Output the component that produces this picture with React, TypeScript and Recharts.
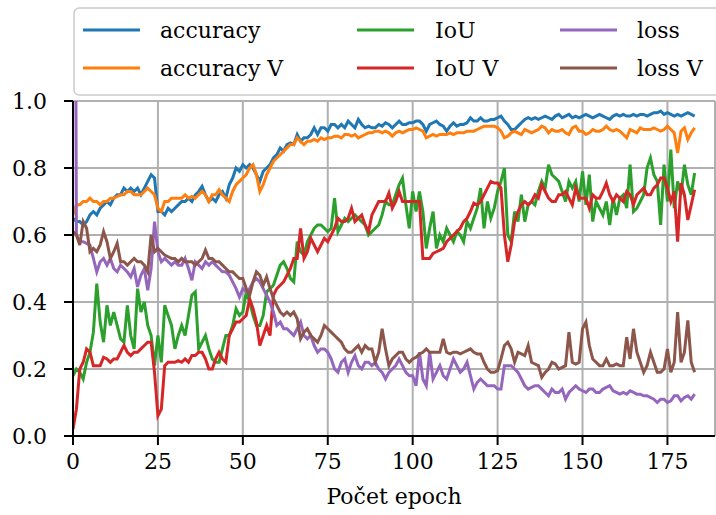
import React from 'react';
import { LineChart, Line, XAxis, YAxis, CartesianGrid } from 'recharts';

const FONT = 'DejaVu Serif';
const FS = 22;

const epochs = Array.from({ length: 184 }, (_, i) => i);

const accuracy = [
  0.65, 0.64, 0.64, 0.63, 0.64, 0.66, 0.67, 0.66, 0.68, 0.69,
  0.70, 0.69, 0.71, 0.72, 0.72, 0.74, 0.73, 0.74, 0.73, 0.74,
  0.72, 0.74, 0.76, 0.78, 0.77, 0.67, 0.67, 0.66, 0.68, 0.67,
  0.68, 0.69, 0.70, 0.70, 0.71, 0.70, 0.72, 0.73, 0.745, 0.72,
  0.70, 0.71, 0.70, 0.72, 0.73, 0.71, 0.75, 0.77, 0.80, 0.79,
  0.81, 0.80, 0.81, 0.80, 0.78, 0.76, 0.79, 0.80, 0.81, 0.83,
  0.84, 0.86, 0.85, 0.87, 0.875, 0.87, 0.90, 0.88, 0.89, 0.89,
  0.90, 0.92, 0.90, 0.92, 0.92, 0.91, 0.93, 0.93, 0.92, 0.93,
  0.92, 0.94, 0.93, 0.92, 0.945, 0.93, 0.92, 0.925, 0.92, 0.92,
  0.93, 0.925, 0.935, 0.93, 0.92, 0.93, 0.94, 0.93, 0.93, 0.935,
  0.935, 0.94, 0.94, 0.93, 0.91, 0.93, 0.935, 0.94, 0.93, 0.925,
  0.91, 0.925, 0.935, 0.925, 0.93, 0.93, 0.935, 0.95, 0.94, 0.94,
  0.95, 0.94, 0.94, 0.945, 0.945, 0.95, 0.955, 0.94, 0.93, 0.915,
  0.915, 0.925, 0.935, 0.945, 0.95, 0.945, 0.95, 0.945, 0.95, 0.955,
  0.95, 0.945, 0.955, 0.96, 0.95, 0.955, 0.96, 0.95, 0.955, 0.95,
  0.955, 0.96, 0.955, 0.95, 0.955, 0.96, 0.955, 0.95, 0.945, 0.955,
  0.96, 0.955, 0.96, 0.955, 0.955, 0.96, 0.955, 0.96, 0.96, 0.955,
  0.96, 0.965, 0.965, 0.97, 0.96, 0.965, 0.96, 0.955, 0.96, 0.955,
  0.96, 0.965, 0.96, 0.955,
];

const accuracyV = [
  0.66, 0.69, 0.69, 0.70, 0.70, 0.71, 0.70, 0.70, 0.69, 0.70,
  0.70, 0.71, 0.71, 0.715, 0.72, 0.72, 0.73, 0.73, 0.72, 0.72,
  0.72, 0.73, 0.74, 0.73, 0.72, 0.68, 0.67, 0.70, 0.70, 0.71,
  0.71, 0.71, 0.71, 0.72, 0.71, 0.715, 0.71, 0.72, 0.73, 0.72,
  0.70, 0.72, 0.72, 0.735, 0.72, 0.71, 0.70, 0.73, 0.75, 0.76,
  0.77, 0.78, 0.80, 0.81, 0.78, 0.73, 0.75, 0.78, 0.80, 0.82,
  0.83, 0.84, 0.85, 0.86, 0.87, 0.87, 0.89, 0.88, 0.87, 0.88,
  0.88, 0.885, 0.88, 0.89, 0.885, 0.89, 0.89, 0.895, 0.895, 0.89,
  0.90, 0.90, 0.895, 0.90, 0.89, 0.895, 0.90, 0.905, 0.905, 0.91,
  0.91, 0.905, 0.91, 0.905, 0.895, 0.905, 0.91, 0.905, 0.91, 0.915,
  0.915, 0.92, 0.915, 0.91, 0.89, 0.895, 0.90, 0.895, 0.90, 0.90,
  0.90, 0.905, 0.90, 0.905, 0.905, 0.905, 0.91, 0.91, 0.91, 0.915,
  0.92, 0.925, 0.925, 0.925, 0.925, 0.92, 0.91, 0.89, 0.895, 0.905,
  0.91, 0.905, 0.90, 0.915, 0.91, 0.905, 0.91, 0.915, 0.925, 0.92,
  0.905, 0.915, 0.91, 0.91, 0.915, 0.905, 0.90, 0.92, 0.925, 0.91,
  0.91, 0.90, 0.905, 0.915, 0.91, 0.91, 0.915, 0.925, 0.915, 0.91,
  0.915, 0.91, 0.90, 0.89, 0.915, 0.91, 0.905, 0.92, 0.915, 0.915,
  0.915, 0.92, 0.915, 0.91, 0.915, 0.925, 0.915, 0.905, 0.845, 0.91,
  0.92, 0.885, 0.905, 0.92,
];

const iou = [
  0.18, 0.20, 0.19, 0.17, 0.22, 0.25, 0.31, 0.455, 0.34, 0.28,
  0.39, 0.33, 0.37, 0.33, 0.29, 0.28, 0.39, 0.30, 0.26, 0.44,
  0.37, 0.40, 0.33, 0.30, 0.21, 0.30, 0.22, 0.39, 0.36, 0.33,
  0.26, 0.30, 0.33, 0.30, 0.36, 0.42, 0.43, 0.26, 0.28, 0.30,
  0.26, 0.23, 0.22, 0.22, 0.26, 0.30, 0.30, 0.33, 0.38, 0.36,
  0.37, 0.43, 0.40, 0.36, 0.33, 0.33, 0.36, 0.43, 0.44, 0.45,
  0.48, 0.51, 0.52, 0.50, 0.47, 0.46, 0.58, 0.55, 0.54, 0.58,
  0.60, 0.62, 0.63, 0.63, 0.62, 0.61, 0.62, 0.71, 0.61, 0.63,
  0.65, 0.64, 0.65, 0.66, 0.65, 0.64, 0.63, 0.60, 0.61, 0.62,
  0.63, 0.66, 0.70, 0.69, 0.69, 0.72, 0.75, 0.77, 0.69, 0.62,
  0.73, 0.67, 0.73, 0.67, 0.56, 0.62, 0.67, 0.56, 0.60, 0.58,
  0.62, 0.60, 0.58, 0.61, 0.60, 0.58, 0.64, 0.62, 0.65, 0.68,
  0.74, 0.62, 0.70, 0.65, 0.68, 0.73, 0.76, 0.80, 0.60, 0.58,
  0.67, 0.64, 0.72, 0.64, 0.69, 0.70, 0.69, 0.73, 0.76, 0.74,
  0.81, 0.78, 0.77, 0.76, 0.73, 0.70, 0.76, 0.74, 0.76, 0.70,
  0.79, 0.69, 0.78, 0.64, 0.70, 0.68, 0.66, 0.70, 0.63, 0.71,
  0.66, 0.71, 0.72, 0.68, 0.81, 0.67, 0.68, 0.70, 0.72, 0.80,
  0.83, 0.78, 0.76, 0.63, 0.81, 0.70, 0.855, 0.68, 0.76, 0.72,
  0.81, 0.75, 0.72, 0.785,
];

const iouV = [
  0.02, 0.08, 0.20, 0.22, 0.26, 0.25, 0.21, 0.21, 0.21, 0.235,
  0.23, 0.22, 0.23, 0.23, 0.25, 0.27, 0.25, 0.24, 0.25, 0.25,
  0.26, 0.27, 0.28, 0.28, 0.19, 0.06, 0.08, 0.21, 0.22, 0.22,
  0.22, 0.225, 0.22, 0.23, 0.22, 0.24, 0.24, 0.25, 0.25, 0.23,
  0.20, 0.20, 0.23, 0.25, 0.23, 0.22, 0.30, 0.32, 0.34, 0.34,
  0.35, 0.36, 0.41, 0.38, 0.34, 0.27, 0.30, 0.33, 0.30, 0.42,
  0.44, 0.45, 0.46, 0.48, 0.50, 0.53, 0.53, 0.62, 0.53, 0.55,
  0.59, 0.57, 0.55, 0.57, 0.59, 0.58, 0.60, 0.62, 0.65, 0.64,
  0.64, 0.65, 0.68, 0.64, 0.65, 0.66, 0.63, 0.61, 0.66, 0.68,
  0.70, 0.70, 0.70, 0.725, 0.68, 0.70, 0.73, 0.70, 0.70, 0.70,
  0.70, 0.70, 0.70, 0.53, 0.53, 0.53, 0.545, 0.55, 0.555, 0.56,
  0.58, 0.59, 0.60, 0.61, 0.62, 0.64, 0.65, 0.67, 0.695, 0.69,
  0.70, 0.72, 0.74, 0.76, 0.755, 0.755, 0.74, 0.60, 0.52, 0.57,
  0.64, 0.67, 0.69, 0.70, 0.69, 0.70, 0.72, 0.71, 0.75, 0.73,
  0.71, 0.70, 0.70, 0.72, 0.72, 0.73, 0.71, 0.69, 0.74, 0.71,
  0.71, 0.71, 0.68, 0.72, 0.71, 0.71, 0.73, 0.755, 0.72, 0.70,
  0.72, 0.71, 0.70, 0.73, 0.72, 0.69, 0.72, 0.73, 0.74, 0.72,
  0.72, 0.74, 0.75, 0.77, 0.77, 0.74, 0.70, 0.73, 0.58, 0.755,
  0.72, 0.645, 0.69, 0.735,
];

const loss = [
  3.5, 0.60, 0.58, 0.58, 0.575, 0.57, 0.53, 0.49, 0.52, 0.53,
  0.51, 0.53, 0.50, 0.49, 0.51, 0.50, 0.49, 0.475, 0.50, 0.445,
  0.48, 0.50, 0.435, 0.50, 0.64, 0.55, 0.52, 0.53, 0.52, 0.51,
  0.52, 0.51, 0.51, 0.53, 0.50, 0.465, 0.52, 0.51, 0.50, 0.52,
  0.51, 0.52, 0.51, 0.50, 0.49, 0.49, 0.48, 0.46, 0.44, 0.415,
  0.44, 0.43, 0.44, 0.46, 0.47, 0.46, 0.44, 0.42, 0.40, 0.37,
  0.33, 0.34, 0.32, 0.32, 0.31, 0.30, 0.32, 0.34, 0.30, 0.29,
  0.30, 0.27, 0.25, 0.26, 0.26, 0.25, 0.23, 0.20, 0.19, 0.22,
  0.23, 0.19, 0.22, 0.24, 0.21, 0.20, 0.22, 0.22, 0.21, 0.22,
  0.20, 0.19, 0.17, 0.19, 0.20, 0.21, 0.23, 0.21, 0.19, 0.18,
  0.18, 0.15, 0.25, 0.17, 0.15, 0.25, 0.17, 0.19, 0.21, 0.18,
  0.17, 0.20, 0.23, 0.21, 0.19, 0.20, 0.22, 0.18, 0.14, 0.16,
  0.17, 0.16, 0.15, 0.15, 0.15, 0.14, 0.14, 0.21, 0.21, 0.21,
  0.20, 0.19, 0.17, 0.15, 0.14, 0.145, 0.15, 0.15, 0.14, 0.13,
  0.12, 0.14, 0.13, 0.13, 0.14, 0.11, 0.13, 0.14, 0.15, 0.14,
  0.135, 0.13, 0.14, 0.14, 0.13, 0.13, 0.14, 0.145, 0.15, 0.135,
  0.13, 0.125, 0.13, 0.125, 0.135, 0.13, 0.125, 0.125, 0.12, 0.12,
  0.115, 0.11, 0.10, 0.11, 0.11, 0.10, 0.105, 0.12, 0.12, 0.105,
  0.115, 0.12, 0.11, 0.125,
];

const lossV = [
  0.61, 0.60, 0.57, 0.64, 0.62, 0.55, 0.56, 0.55, 0.57, 0.61,
  0.58, 0.53, 0.55, 0.575, 0.52, 0.52, 0.51, 0.52, 0.53, 0.52,
  0.52, 0.51, 0.49, 0.60, 0.55, 0.56, 0.55, 0.54, 0.535, 0.53,
  0.53, 0.52, 0.53, 0.52, 0.52, 0.52, 0.51, 0.52, 0.53, 0.555,
  0.53, 0.53, 0.52, 0.52, 0.51, 0.50, 0.49, 0.49, 0.48, 0.47,
  0.47, 0.44, 0.42, 0.46, 0.49, 0.48, 0.45, 0.475, 0.44, 0.41,
  0.39, 0.37, 0.36, 0.37, 0.36, 0.37, 0.35, 0.29, 0.31, 0.32,
  0.30, 0.29, 0.28, 0.30, 0.33, 0.32, 0.31, 0.30, 0.29, 0.28,
  0.26, 0.25, 0.25, 0.26, 0.27, 0.25, 0.27, 0.26, 0.26, 0.22,
  0.25, 0.32, 0.26, 0.21, 0.23, 0.24, 0.25, 0.25, 0.23, 0.22,
  0.23, 0.235, 0.245, 0.25, 0.26, 0.25, 0.25, 0.25, 0.25, 0.29,
  0.25, 0.245, 0.25, 0.25, 0.245, 0.25, 0.255, 0.26, 0.25, 0.245,
  0.245, 0.22, 0.20, 0.19, 0.19, 0.195, 0.23, 0.27, 0.28, 0.26,
  0.22, 0.25, 0.245, 0.24, 0.27, 0.22, 0.215, 0.21, 0.175, 0.19,
  0.20, 0.22, 0.215, 0.20, 0.205, 0.21, 0.31, 0.22, 0.215, 0.22,
  0.32, 0.34, 0.27, 0.23, 0.22, 0.21, 0.21, 0.23, 0.21, 0.21,
  0.215, 0.21, 0.21, 0.295, 0.23, 0.32, 0.25, 0.22, 0.19, 0.21,
  0.25, 0.22, 0.19, 0.19, 0.20, 0.26, 0.19, 0.22, 0.37, 0.22,
  0.25, 0.345, 0.22, 0.19,
];

const seriesKeys = ['accuracy', 'accuracyV', 'iou', 'iouV', 'loss', 'lossV'];
const seriesNames = ['accuracy', 'accuracy V', 'IoU', 'IoU V', 'loss', 'loss V'];
const seriesColors = ['#1f77b4', '#ff7f0e', '#2ca02c', '#d62728', '#9467bd', '#8c564b'];
const seriesValues = [accuracy, accuracyV, iou, iouV, loss, lossV];

const xTicks = [0, 25, 50, 75, 100, 125, 150, 175];
const yTicks = [0, 0.2, 0.4, 0.6, 0.8, 1.0];
const xLabel = 'Počet epoch';

const data = epochs.map((e, i) => {
  const row: Record<string, number> = { epoch: e };
  seriesKeys.forEach((k, s) => {
    row[k] = seriesValues[s][i];
  });
  return row;
});

const legendColX = [83, 357, 560];
const legendTextX = [160, 435, 637];
const legendRowY = [30, 68];

function LegendBox() {
  return (
    <svg
      width={716}
      height={100}
      style={{ position: 'absolute', left: 0, top: 0, pointerEvents: 'none' }}
    >
      <rect x={74} y={8} width={680} height={87} rx={5} ry={5} fill="#ffffff" fillOpacity={0.8} stroke="#cccccc" strokeWidth={1.5} />
      {seriesNames.map((name, i) => {
        const col = Math.floor(i / 2);
        const row = i % 2;
        const y = legendRowY[row];
        return (
          <g key={name}>
            <line x1={legendColX[col]} x2={legendColX[col] + 57} y1={y} y2={y} stroke={seriesColors[i]} strokeWidth={3} />
            <text x={legendTextX[col]} y={y + 8} style={{ fontFamily: FONT, fontSize: FS }} fill="#000">
              {name}
            </text>
          </g>
        );
      })}
    </svg>
  );
}

export default function App() {
  const tickStyle = { fill: '#000', fontSize: FS, fontFamily: FONT };
  return (
    <div style={{ position: 'absolute', left: 0, top: 0, width: 716, height: 515, overflow: 'hidden', background: '#fff', fontFamily: FONT }}>
      <LineChart width={716} height={515} data={data} margin={{ top: 101, right: 1, bottom: 0, left: 0 }} style={{ fontFamily: FONT }}>
        <CartesianGrid stroke="#b0b0b0" strokeWidth={2} />
        <XAxis
          dataKey="epoch"
          type="number"
          domain={[0, 189]}
          ticks={xTicks}
          interval={0}
          allowDataOverflow
          height={79}
          tickSize={9}
          tickMargin={8}
          tick={tickStyle}
          axisLine={{ stroke: '#000', strokeWidth: 2 }}
          tickLine={{ stroke: '#000', strokeWidth: 2 }}
          label={{ value: xLabel, position: 'insideBottom', offset: 11, fill: '#000', fontSize: FS, fontFamily: FONT }}
        />
        <XAxis
          xAxisId="top"
          orientation="top"
          dataKey="epoch"
          type="number"
          domain={[0, 189]}
          height={0}
          tick={false}
          tickLine={false}
          axisLine={{ stroke: '#000', strokeWidth: 2 }}
        />
        <YAxis
          type="number"
          domain={[0, 1]}
          ticks={yTicks}
          interval={0}
          allowDataOverflow
          width={73}
          tickSize={9}
          tickMargin={17}
          tick={tickStyle}
          tickFormatter={(v: number) => v.toFixed(1)}
          axisLine={{ stroke: '#000', strokeWidth: 2 }}
          tickLine={{ stroke: '#000', strokeWidth: 2 }}
        />
        <YAxis
          yAxisId="right"
          orientation="right"
          type="number"
          domain={[0, 1]}
          width={0}
          tick={false}
          tickLine={false}
          axisLine={{ stroke: '#000', strokeWidth: 2 }}
        />
        {seriesKeys.map((k, i) => (
          <Line
            key={k}
            dataKey={k}
            name={seriesNames[i]}
            type="linear"
            stroke={seriesColors[i]}
            strokeWidth={3}
            dot={false}
            activeDot={false}
            isAnimationActive={false}
          />
        ))}
      </LineChart>
      <LegendBox />
    </div>
  );
}
